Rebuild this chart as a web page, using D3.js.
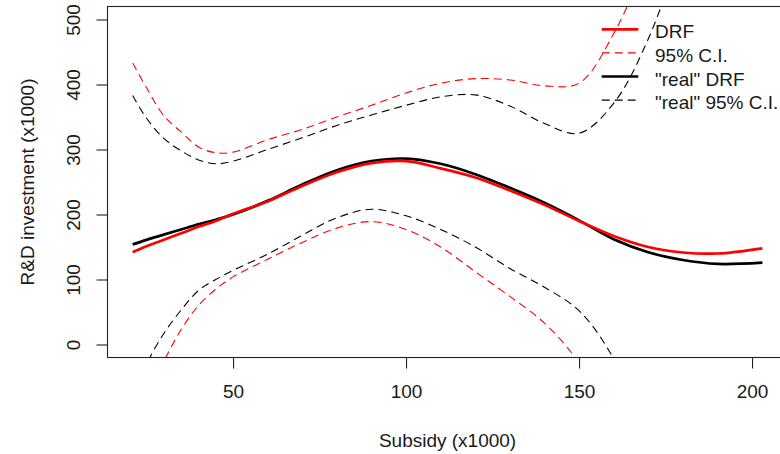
<!DOCTYPE html>
<html>
<head>
<meta charset="utf-8">
<script src="https://cdn.jsdelivr.net/npm/d3@7"></script>
<style>
  body { margin: 0; background: #fff; }
  text { font-family: "Liberation Sans", Arial, sans-serif; fill: #1a1a1a; }
</style>
</head>
<body>
<svg id="chart" width="780" height="454"></svg>
<script>
// subsidy grid (x1000)
let subsidy = [21, 25, 30, 35, 40, 45, 50, 60, 70, 80, 90, 100, 110, 120, 130, 140, 150, 160, 170, 180, 190, 203];

// estimated dose response function and its 95% band
let drf      = [142, 151, 161, 171, 181, 190, 201, 220, 244, 265, 279, 282, 271, 257, 237, 215, 190, 167, 150, 141.5, 140, 148];
let ciUpper  = [433, 395, 352, 327, 304, 295, 296, 315, 331, 350, 368, 387, 402, 409, 407, 398, 402, 478, 600, 760, 940, 1200];
let ciLower  = [-130, -70, -25, 23, 60, 85, 104, 131, 157, 179, 189, 177, 150, 112, 74, 33, -28, -120, -250, -400, -550, -750];

// "real" dose response function and its band
let realDrf     = [154, 161, 169, 177, 185, 192, 200, 221, 246, 268, 282, 286, 278, 262, 241, 218, 191, 162, 142, 130, 124, 126];
let realUpper   = [383, 348, 317, 298, 284, 278, 282, 300, 318, 337, 353, 368, 381, 384, 367, 340, 325, 371, 470, 620, 800, 1100];
let realLower   = [-80, -30, 17, 53, 83, 100, 114, 139, 168, 195, 208, 198, 177, 150, 117, 88, 52, -22, -150, -300, -450, -650];

let xTicks = [50, 100, 150, 200];
let yTicks = [0, 100, 200, 300, 400, 500];
let legendLabels = ["DRF", "95% C.I.", "\"real\" DRF", "\"real\" 95% C.I."];

let svg = d3.select("#chart");

// plot region (R style: axes extended 4% past the data)
let plotLeft = 107.5, plotRight = 787.6, plotTop = 6.5, plotBottom = 357.5;

let xScale = d3.scaleLinear().domain([13.72, 210.28]).range([plotLeft, plotRight]);
let yScale = d3.scaleLinear().domain([-20, 520]).range([plotBottom, plotTop]);

svg.append("clipPath").attr("id", "plotClip")
    .append("rect")
    .attr("x", plotLeft).attr("y", plotTop)
    .attr("width", plotRight - plotLeft).attr("height", plotBottom - plotTop);

// series to draw, in the order R drew them
let series = [
    {values: realDrf,   color: "#000", width: 2.7, dash: null},
    {values: realUpper, color: "#000", width: 1.1, dash: "8,5"},
    {values: realLower, color: "#000", width: 1.1, dash: "8,5"},
    {values: drf,       color: "#ff0000", width: 2.7, dash: null},
    {values: ciUpper,   color: "#ff0000", width: 1.1, dash: "8,5"},
    {values: ciLower,   color: "#ff0000", width: 1.1, dash: "8,5"}
];

let line = d3.line()
    .x(function (d, i) { return xScale(subsidy[i]); })
    .y(function (d) { return yScale(d); })
    .curve(d3.curveCatmullRom.alpha(0.5));

let plot = svg.append("g").attr("clip-path", "url(#plotClip)");
series.forEach(function (s) {
    plot.append("path")
        .attr("d", line(s.values))
        .attr("fill", "none")
        .attr("stroke", s.color)
        .attr("stroke-width", s.width)
        .attr("stroke-dasharray", s.dash);
});

// box around the plot
svg.append("rect")
    .attr("x", plotLeft).attr("y", plotTop)
    .attr("width", plotRight - plotLeft).attr("height", plotBottom - plotTop)
    .attr("fill", "none").attr("stroke", "#222").attr("stroke-width", 1.1);

// x axis
let xAxis = d3.axisBottom(xScale).tickValues(xTicks).tickSize(11).tickPadding(16).tickFormat(d3.format("d"));
let gx = svg.append("g").attr("transform", "translate(0," + plotBottom + ")").call(xAxis);
gx.select(".domain").remove();
gx.selectAll("line").attr("stroke", "#222").attr("stroke-width", 1.1);
gx.selectAll("text").attr("font-size", 19).attr("fill", "#1a1a1a")
    .attr("font-family", "Liberation Sans, Arial, sans-serif");

// y axis, labels parallel to the axis
let yAxis = d3.axisLeft(yScale).tickValues(yTicks).tickSize(11).tickFormat(d3.format("d"));
let gy = svg.append("g").attr("transform", "translate(" + plotLeft + ",0)").call(yAxis);
gy.select(".domain").remove();
gy.selectAll("line").attr("stroke", "#222").attr("stroke-width", 1.1);
gy.selectAll("text")
    .attr("x", 0).attr("y", 0).attr("dy", 0)
    .attr("text-anchor", "middle")
    .attr("transform", "translate(-28,0) rotate(-90)")
    .attr("font-size", 19).attr("fill", "#1a1a1a")
    .attr("font-family", "Liberation Sans, Arial, sans-serif");

// axis titles
svg.append("text")
    .attr("x", (plotLeft + plotRight) / 2).attr("y", 446.5)
    .attr("text-anchor", "middle").attr("font-size", 19)
    .text("Subsidy (x1000)");

svg.append("text")
    .attr("transform", "translate(34," + (plotTop + plotBottom) / 2 + ") rotate(-90)")
    .attr("text-anchor", "middle").attr("font-size", 19)
    .text("R&D investment (x1000)");

// legend, no frame
let legendStyles = [series[3], series[4], series[0], series[1]];
let legend = svg.append("g");
legendLabels.forEach(function (label, i) {
    let rowY = 29.3 + i * 23.6;
    let s = legendStyles[i];
    legend.append("line")
        .attr("x1", 601.7).attr("x2", 638.3)
        .attr("y1", rowY).attr("y2", rowY)
        .attr("stroke", s.color)
        .attr("stroke-width", s.width)
        .attr("stroke-dasharray", s.dash);
    legend.append("text")
        .attr("x", 655).attr("y", rowY + 9)
        .attr("font-size", 19)
        .text(label);
});
</script>
</body>
</html>
